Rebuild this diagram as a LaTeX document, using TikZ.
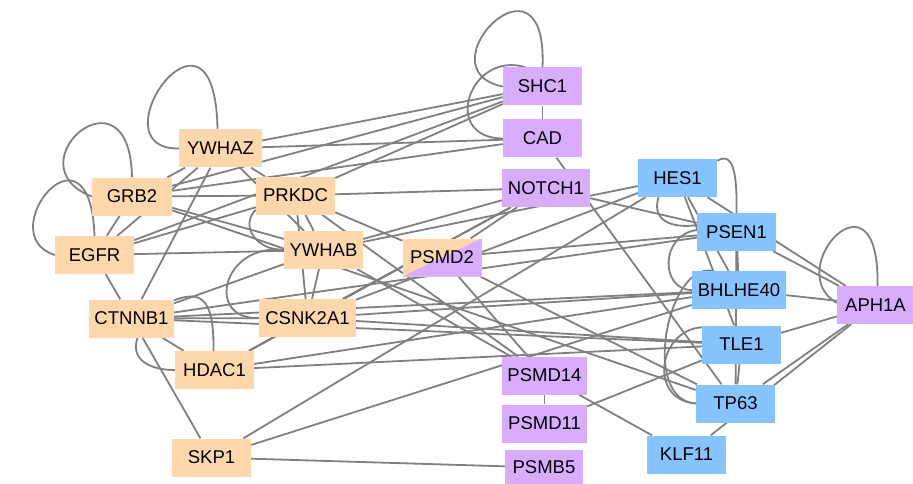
\documentclass[tikz,border=0pt]{standalone}
\usepackage{fontspec}
\setmainfont{Liberation Sans}
\usetikzlibrary{calc,backgrounds}
\definecolor{org}{RGB}{254,216,170}
\definecolor{pur}{RGB}{216,172,255}
\definecolor{blu}{RGB}{134,196,255}
\definecolor{edg}{RGB}{128,128,128}
\begin{document}
\begin{tikzpicture}[x=1pt,y=-1pt,
  gene/.style={rectangle, minimum height=38pt, minimum width=79pt, inner sep=0pt, font=\fontsize{18.5}{20}\selectfont, text=black},
  og/.style={gene, fill=org}, pu/.style={gene, fill=pur}, bl/.style={gene, fill=blu},
  link/.style={draw=edg, line width=1.8pt}]
\useasboundingbox (0,0) rectangle (913,484);
% nodes
\node[pu] (SHC1) at (542.5,86.5) {SHC1};
\node[pu] (CAD) at (542.5,138.5) {CAD};
\node[pu, minimum width=88pt] (NOTCH1) at (546,188) {NOTCH1};
\node[bl] (HES1) at (677.5,178) {HES1};
\node[bl] (PSEN1) at (736.5,232) {PSEN1};
\node[bl, minimum width=94pt] (BHLHE40) at (739,290) {BHLHE40};
\node[pu, minimum width=77pt] (APH1A) at (875.5,305) {APH1A};
\node[bl] (TLE1) at (741.5,344.5) {TLE1};
\node[bl] (TP63) at (735.5,403.5) {TP63};
\node[bl] (KLF11) at (686.5,454.5) {KLF11};
\node[og, path picture={\fill[pur] (path picture bounding box.north east) -- (path picture bounding box.south east) -- (path picture bounding box.south west) -- cycle;}] (PSMD2) at (442,257.5) {PSMD2};
\node[pu, minimum width=85pt] (PSMD14) at (544.5,375.5) {PSMD14};
\node[pu, minimum width=85pt] (PSMD11) at (544.5,423.5) {PSMD11};
\node[pu, minimum width=78pt, minimum height=35pt] (PSMB5) at (544,467.5) {PSMB5};
\node[og, minimum width=83pt] (YWHAZ) at (220.5,148.5) {YWHAZ};
\node[og, minimum width=80pt] (GRB2) at (132,196.5) {GRB2};
\node[og] (PRKDC) at (295.5,195.5) {PRKDC};
\node[og] (EGFR) at (94.5,255) {EGFR};
\node[og] (YWHAB) at (323.5,250) {YWHAB};
\node[og, minimum width=85pt] (CTNNB1) at (131.5,318.5) {CTNNB1};
\node[og, minimum width=97pt] (CSNK2A1) at (307.5,318) {CSNK2A1};
\node[og] (HDAC1) at (214.5,370) {HDAC1};
\node[og] (SKP1) at (211.5,457.5) {SKP1};
\begin{pgfonlayer}{background}
\fill[white] (0,0) rectangle (913,484);
% self loops and curved edges
\draw[link] (SHC1.west) .. controls (420,70) and (548,-62) .. (SHC1.north);
\draw[link] (CAD.west) .. controls (440,138) and (470,50) .. ($(SHC1.north)+(-17,0)$);
\draw[link] (YWHAZ.west) .. controls (92,150) and (215,-25) .. ($(YWHAZ.north)+(-3,0)$);
\draw[link] (GRB2.west) .. controls (10,165) and (130,60) .. (GRB2.north);
\draw[link] (EGFR.west) .. controls (-10,235) and (90,110) .. (EGFR.north);
\draw[link] ($(PRKDC.south west)+(0,-5)$) .. controls (240,225) and (255,250) .. (YWHAB.west);
\draw[link] (YWHAB.west) .. controls (222,243) and (205,320) .. (CSNK2A1.west);
\draw[link] ($(CTNNB1.north east)+(0,1)$) .. controls (205,288) and (214,305) .. ($(HDAC1.north)+(-1,0)$);
\draw[link] ($(CTNNB1.south)+(6,0)$) .. controls (130,360) and (150,370) .. (HDAC1.west);
\draw[link] ($(HES1.north east)+(0,2)$) .. controls (735,150) and (737,180) .. (PSEN1.north);
\draw[link] ($(HES1.south)+(-19,0)$) .. controls (650,225) and (680,228) .. ($(PSEN1.west)+(0,-7)$);
\draw[link] ($(PSEN1.west)+(0,-2)$) .. controls (660,235) and (660,290) .. (BHLHE40.west);
\draw[link] ($(BHLHE40.north west)+(21,0)$) .. controls (668,262) and (640,400) .. (TP63.west);
\draw[link] ($(TLE1.north west)+(0,2)$) .. controls (658,330) and (648,400) .. (TP63.west);
\draw[link] ($(APH1A.west)+(0,-2)$) .. controls (780,270) and (880,160) .. ($(APH1A.north)+(2,0)$);
% straight edges
\foreach \a/\b in {YWHAZ/GRB2, YWHAZ/EGFR, YWHAZ/PRKDC, YWHAZ/YWHAB, YWHAZ/CTNNB1,
  GRB2/PRKDC, GRB2/EGFR, GRB2/YWHAB, EGFR/PRKDC, EGFR/YWHAB, EGFR/CTNNB1,
  PRKDC/YWHAB, PRKDC/CSNK2A1, YWHAB/CSNK2A1, CTNNB1/YWHAB, CTNNB1/CSNK2A1,
  CTNNB1/HDAC1, CTNNB1/SKP1, CSNK2A1/HDAC1,
  YWHAZ/SHC1, YWHAZ/CAD, GRB2/SHC1, GRB2/CAD, EGFR/SHC1, PRKDC/SHC1,
  PRKDC/NOTCH1, PRKDC/PSMD2, PRKDC/PSMD14, YWHAB/NOTCH1, YWHAB/HES1, YWHAB/PSMD14,
  GRB2/TP63, CTNNB1/PSEN1, CTNNB1/BHLHE40, CTNNB1/TLE1, CSNK2A1/HES1,
  CSNK2A1/BHLHE40, CSNK2A1/TLE1, CSNK2A1/NOTCH1, HDAC1/BHLHE40, HDAC1/TLE1,
  HDAC1/NOTCH1, SKP1/HES1, SKP1/BHLHE40, SKP1/PSMB5,
  SHC1/CAD, CAD/TP63, NOTCH1/PSMD2, NOTCH1/PSEN1, PSMD2/PSEN1, PSMD2/TP63,
  PSMD2/PSMD14, PSMD14/PSMD11, PSMD14/KLF11, PSMD11/TLE1,
  HES1/TLE1, HES1/BHLHE40, HES1/APH1A, PSEN1/BHLHE40, PSEN1/APH1A, PSEN1/TP63,
  BHLHE40/APH1A, TLE1/APH1A, TLE1/TP63, TP63/APH1A, KLF11/APH1A}
  \draw[link] (\a) -- (\b);
\end{pgfonlayer}
\end{tikzpicture}
\end{document}
